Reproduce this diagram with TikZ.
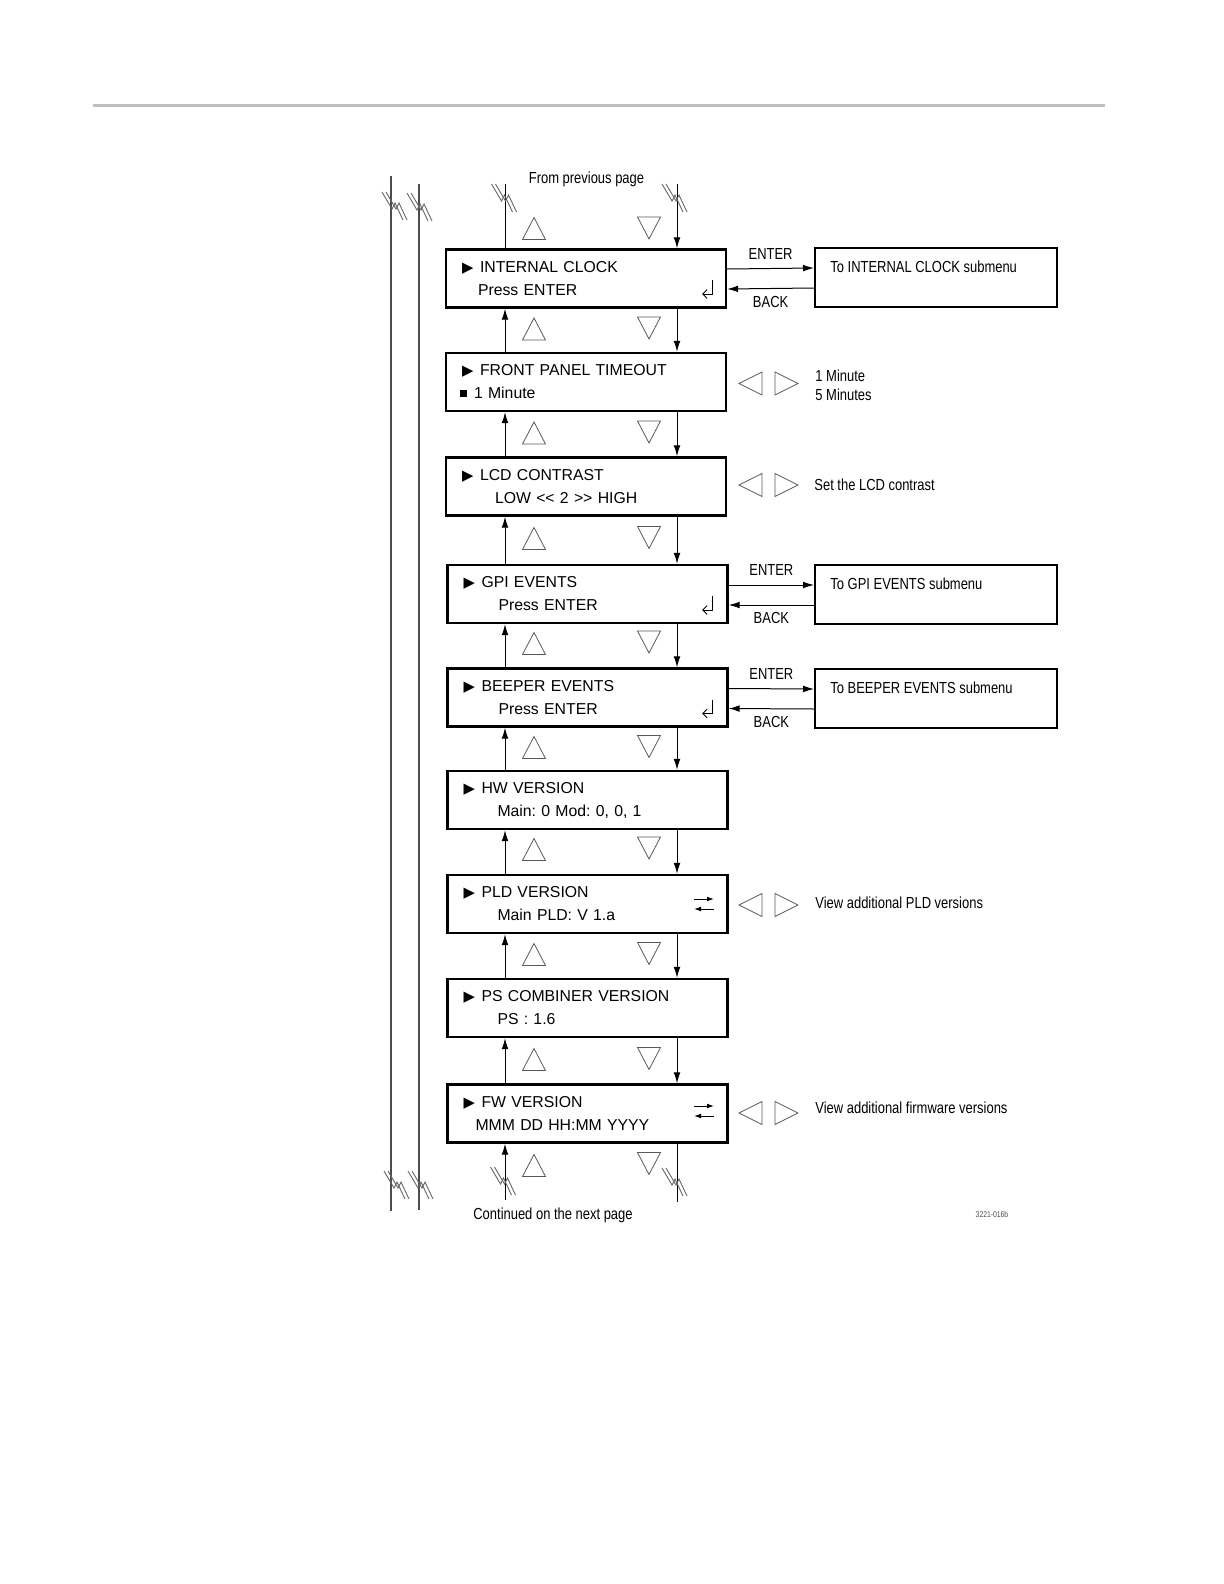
\documentclass[tikz,border=0pt]{standalone}
\usepackage{fontspec}
\setmainfont{Liberation Sans}
\newfontfamily\narrowfont[FakeStretch=0.81]{Liberation Sans}
\newfontfamily\symfont{DejaVu Sans}
\usepackage{tikz}
\usetikzlibrary{arrows.meta}
\frenchspacing

\newcommand{\mtitle}[1]{\makebox[9pt][l]{\symfont\fontsize{7.4}{6}\selectfont\raisebox{0pt}{▶}}#1}

\tikzset{
  menubox/.style={draw, line width=1.2pt, minimum width=140pt, minimum height=29pt,
    text width=124pt, inner xsep=8pt, align=left, font=\fontsize{7.9}{11.5}\selectfont},
  subbox/.style={draw, line width=1pt, minimum width=121pt, minimum height=29.5pt},
  note/.style={font=\narrowfont\fontsize{8}{9.5}\selectfont, inner sep=0pt, align=left},
  tri/.style={draw=black!65, line width=0.4pt},
  brkline/.style={draw=black!60, line width=0.45pt},
  vline/.style={draw=black!70, line width=0.6pt},
  uptri/.pic={\draw[tri] (-11.5,11) -- (11.5,11) -- (0,-11) -- cycle;},
  dntri/.pic={\draw[tri] (-11.5,-11) -- (11.5,-11) -- (0,11) -- cycle;},
  lftri/.pic={\draw[tri] (11.5,-11.5) -- (11.5,11.5) -- (-11.5,0) -- cycle;},
  rttri/.pic={\draw[tri] (-11.5,-11.5) -- (-11.5,11.5) -- (11.5,0) -- cycle;},
  brk/.pic={\draw[brkline] (-12,-14) -- (-2,3) -- (1,-3) -- (9,14);
            \draw[brkline] (-8,-14) -- (2,3) -- (5,-3) -- (13,14);},
  swap/.pic={\draw[line width=0.5pt, -{Latex[length=3.5pt,width=2.4pt]}] (-10,-5) -- (10,-5);
             \draw[line width=0.5pt, -{Latex[length=3.5pt,width=2.4pt]}] (10,5) -- (-10,5);},
  ret/.pic={\draw[line width=0.5pt, -{Straight Barb[length=2.2pt,width=4.4pt]}] (4,-8) -- (4,6) -- (-6,6);}
}

\begin{document}
\begin{tikzpicture}[x=0.5pt, y=-0.5pt]
  \useasboundingbox (0,0) rectangle (1224,1584);
  \draw[black!25, line width=1.7pt] (93,105.5) -- (1105,105.5);

  % menu screens
  \begin{scope}[every node/.style={menubox}]
    \node (clock)    at (586,278.5)  {\mtitle{INTERNAL CLOCK}\\\hspace*{8pt}Press ENTER};
    \node (timeout)  at (586,382)    {\mtitle{FRONT PANEL TIMEOUT}\\\hspace*{-1pt}\rule[1pt]{3.5pt}{3.5pt}\hspace{3.5pt}1 Minute};
    \node (contrast) at (586,486.5)  {\mtitle{LCD CONTRAST}\\\hspace*{16.5pt}LOW <\kern0pt< 2 >\kern0pt> HIGH};
    \node (gpi)      at (587.5,594)  {\mtitle{GPI EVENTS}\\\hspace*{17.5pt}Press ENTER};
    \node (beeper)   at (587.5,697.5){\mtitle{BEEPER EVENTS}\\\hspace*{17.5pt}Press ENTER};
    \node (hw)       at (587.5,800)  {\mtitle{HW VERSION}\\\hspace*{17pt}Main: 0 Mod: 0, 0, 1};
    \node (pld)      at (587.5,904)  {\mtitle{PLD VERSION}\\\hspace*{17pt}Main PLD: V 1.a};
    \node (ps)       at (587.5,1008) {\mtitle{PS COMBINER VERSION}\\\hspace*{17pt}PS : 1.6};
    \node (fw)       at (587.5,1113.5){\mtitle{FW VERSION}\\\hspace*{6pt}MMM DD HH:MM YYYY};
  \end{scope}

  % key glyphs on the screens
  \pic at (708,288)   {ret};
  \pic at (708,604)   {ret};
  \pic at (708,707.5) {ret};
  \pic at (704,904)  {swap};
  \pic at (704,1111) {swap};

  % submenus
  \begin{scope}[every node/.style={subbox}]
    \node (clocksub)  at (936,277.5) {};
    \node (gpisub)    at (936,594)   {};
    \node (beepersub) at (936,698)   {};
  \end{scope}
  \node[note, anchor=west] (clocksubtxt)  at (830,267) {To INTERNAL CLOCK submenu};
  \node[note, anchor=west] (gpisubtxt)    at (830,584) {To GPI EVENTS submenu};
  \node[note, anchor=west] (beepersubtxt) at (830,688) {To BEEPER EVENTS submenu};

  % side notes
  \node[note, anchor=west] (timeoutnote)  at (815,385.5) {1 Minute\\5 Minutes};
  \node[note, anchor=west] (contrastnote) at (814,485)   {Set the LCD contrast};
  \node[note, anchor=west] (pldnote)      at (815,903)   {View additional PLD versions};
  \node[note, anchor=west] (fwnote)       at (815,1108)  {View additional firmware versions};
  \node[note] (fromprev) at (586.5,179) {From previous page};
  \node[note] (nextpage) at (553,1215)  {Continued on the next page};
  \node[note, font=\narrowfont\fontsize{4.2}{5}\selectfont, text=black!70] (figno) at (992,1214) {3221-016b};

  % up/down keys
  \foreach \u/\d in {228.5/228, 329/328, 433/432, 538.5/537.5, 643.5/642, 747.5/746.5,
                     849.5/848, 954.5/953.5, 1059.5/1058.5, 1165.5/1163.5}{
    \pic at (534,\u) {uptri};
    \pic at (649,\d) {dntri};
  }
  % left/right keys
  \foreach \y in {383.5, 485, 905, 1113}{
    \pic at (750.5,\y) {lftri};
    \pic at (786.5,\y) {rttri};
  }

  % connectors
  \coordinate (ux) at (505,0);
  \coordinate (dx) at (677,0);
  \coordinate (topup) at (505,184);
  \coordinate (topdn) at (677,184);
  \coordinate (botup) at (505,1200);
  \coordinate (botdn) at (677,1202);
  \begin{scope}[>={Latex[length=5.5pt,width=3.4pt]},
                every node/.style={note},
                every edge/.style={draw=black, line width=0.5pt}]
    \path (clock.north -| ux) edge (topup);
    \path (topdn) edge[->] (clock.north -| dx);
    \path (timeout.north -| ux)  edge[->] (clock.south -| ux);
    \path (contrast.north -| ux) edge[->] (timeout.south -| ux);
    \path (gpi.north -| ux)      edge[->] (contrast.south -| ux);
    \path (beeper.north -| ux)   edge[->] (gpi.south -| ux);
    \path (hw.north -| ux)       edge[->] (beeper.south -| ux);
    \path (pld.north -| ux)      edge[->] (hw.south -| ux);
    \path (ps.north -| ux)       edge[->] (pld.south -| ux);
    \path (fw.north -| ux)       edge[->] (ps.south -| ux);
    \path (botup)                edge[->] (fw.south -| ux);
    \path (clock.south -| dx)    edge[->] (timeout.north -| dx);
    \path (timeout.south -| dx)  edge[->] (contrast.north -| dx);
    \path (contrast.south -| dx) edge[->] (gpi.north -| dx);
    \path (gpi.south -| dx)      edge[->] (beeper.north -| dx);
    \path (beeper.south -| dx)   edge[->] (hw.north -| dx);
    \path (hw.south -| dx)       edge[->] (pld.north -| dx);
    \path (pld.south -| dx)      edge[->] (ps.north -| dx);
    \path (ps.south -| dx)       edge[->] (fw.north -| dx);
    \path (fw.south -| dx)       edge (botdn);
    % enter / back
    \path ([yshift=4.75pt]clock.east)  edge[->] node[above=4.5pt] {ENTER} ([yshift=4.75pt]clocksub.west);
    \path ([yshift=-5.25pt]clocksub.west) edge[->] node[below=3.6pt] {BACK} ([yshift=-5.25pt]clock.east);
    \path ([yshift=4.5pt]gpi.east)  edge[->] node[above=4.5pt] {ENTER} ([yshift=4.5pt]gpisub.west);
    \path ([yshift=-5.5pt]gpisub.west) edge[->] node[below=3.6pt] {BACK} ([yshift=-5.5pt]gpi.east);
    \path ([yshift=4.5pt]beeper.east)  edge[->] node[above=4.5pt] {ENTER} ([yshift=4.5pt]beepersub.west);
    \path ([yshift=-5.5pt]beepersub.west) edge[->] node[below=3.6pt] {BACK} ([yshift=-5.5pt]beeper.east);
  \end{scope}

  % side rails
  \draw[vline] (391,176) -- (391,1211);
  \draw[vline] (419,184) -- (419,1210);

  % page breaks
  \foreach \p in {(394,206), (419,207), (396,1185), (420,1185),
                  (503.5,198), (674,198), (502.5,1181), (674,1182)}{
    \pic at \p {brk};
  }
\end{tikzpicture}
\end{document}
